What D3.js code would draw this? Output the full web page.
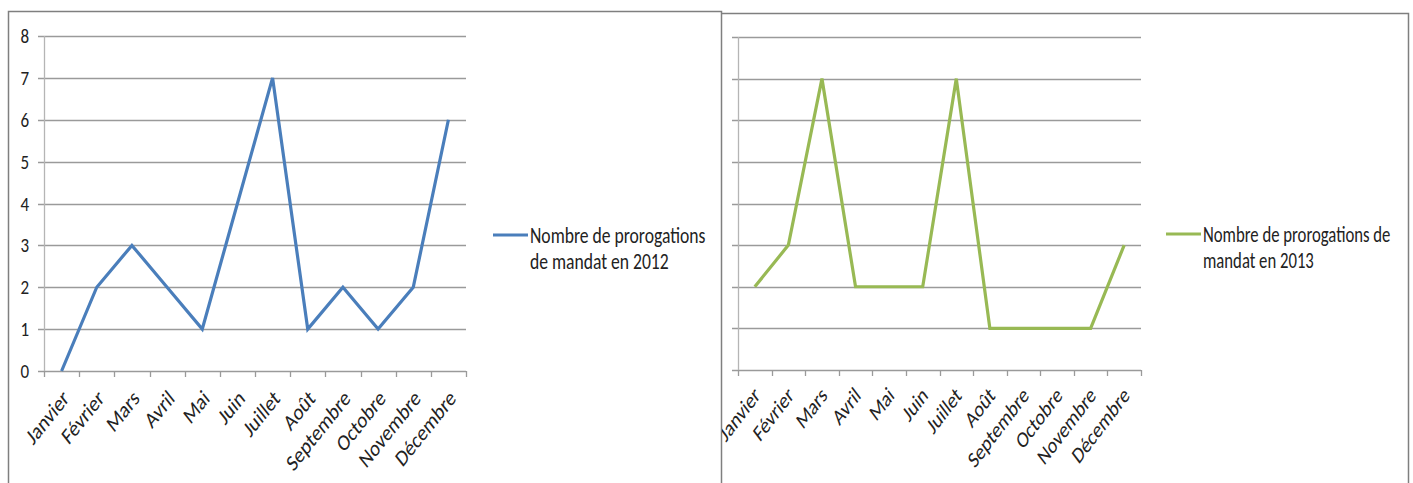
<!DOCTYPE html>
<html>
<head>
<meta charset="utf-8">
<script src="https://cdn.jsdelivr.net/npm/d3@7"></script>
<style>
  body { margin: 0; background: #fff; }
  svg { display: block; font-family: Carlito, "Liberation Sans Narrow", "DejaVu Sans Condensed", sans-serif; }
</style>
</head>
<body>
<svg id="chart" width="1413" height="483"></svg>
<script>
const months = ['Janvier','Février','Mars','Avril','Mai','Juin','Juillet','Août','Septembre','Octobre','Novembre','Décembre']
const values2012 = [0, 2, 3, 2, 1, 4, 7, 1, 2, 1, 2, 6]
const values2013 = [2, 3, 7, 2, 2, 2, 7, 1, 1, 1, 1, 3]
const yTicks = [0, 1, 2, 3, 4, 5, 6, 7, 8]
const legend2012 = ['Nombre de prorogations', 'de mandat en 2012']
const legend2013 = ['Nombre de prorogations de', 'mandat en 2013']

const svg = d3.select('#chart')

// clip for the right chart (its first label runs under the frame)
svg.append('clipPath').attr('id', 'clipRight')
    .append('rect').attr('x', 722).attr('y', 0).attr('width', 700).attr('height', 483)

// frames
svg.append('path')
    .attr('d', 'M8.5,483 V11.5 H721.5 V483 M721.5,13.5 H1408.5 V483')
    .attr('fill', 'none')
    .attr('stroke', '#7f7f7f')
    .attr('stroke-width', 1.5)

function drawChart(opts) {
    const x = d3.scaleBand().domain(months).range([opts.x0, opts.x1])
    const y = d3.scaleLinear().domain([0, 8]).range([opts.y0, opts.y1])
    const g = svg.append('g')
    if (opts.clip) g.attr('clip-path', `url(#${opts.clip})`)

    // gridlines
    g.append('g')
        .selectAll('line')
        .data(yTicks)
        .join('line')
        .attr('x1', opts.x0 - 6)
        .attr('x2', opts.x1)
        .attr('y1', d => Math.round(y(d)) + 0.5)
        .attr('y2', d => Math.round(y(d)) + 0.5)
        .attr('stroke', '#9a9a9a')
        .attr('stroke-width', 1.3)

    // y axis line
    g.append('line')
        .attr('x1', opts.x0 + 0.5).attr('x2', opts.x0 + 0.5)
        .attr('y1', y(8)).attr('y2', y(0))
        .attr('stroke', '#b5b5b5')
        .attr('stroke-width', 1.3)

    // x ticks
    const edges = months.map(m => x(m)).concat([opts.x1])
    g.append('g')
        .selectAll('line')
        .data(edges)
        .join('line')
        .attr('x1', d => Math.round(d) + 0.5)
        .attr('x2', d => Math.round(d) + 0.5)
        .attr('y1', y(0))
        .attr('y2', y(0) + 6)
        .attr('stroke', '#9a9a9a')
        .attr('stroke-width', 1.3)

    if (opts.yLabels) {
        g.append('g')
            .selectAll('text')
            .data(yTicks)
            .join('text')
            .attr('transform', d => `translate(${opts.x0 - 15},${y(d)}) scale(0.85,1)`)
            .attr('dy', '0.35em')
            .attr('text-anchor', 'end')
            .attr('font-size', 20)
            .attr('fill', '#222')
            .text(d => d)
    }

    // x labels (picture is squeezed sideways, so the text is too)
    g.append('g')
        .selectAll('text')
        .data(months)
        .join('text')
        .attr('transform', d => `translate(${x(d) + x.bandwidth() / 2 + opts.labelDx},${y(0) + opts.labelDy}) scale(${opts.squeeze},1) rotate(-45)`)
        .attr('text-anchor', 'end')
        .attr('dy', '0.35em')
        .attr('font-size', 23)
        .attr('fill', '#222')
        .text(d => d)

    // series line
    const line = d3.line()
        .x((d, i) => x(months[i]) + x.bandwidth() / 2)
        .y(d => y(d))
    g.append('path')
        .datum(opts.values)
        .attr('d', line)
        .attr('fill', 'none')
        .attr('stroke', opts.color)
        .attr('stroke-width', 3.2)
        .attr('stroke-linejoin', 'miter')

    // legend
    const lg = svg.append('g').attr('transform', `translate(${opts.legendX},${opts.legendY})`)
    lg.append('line')
        .attr('x1', 0).attr('x2', 35)
        .attr('y1', 0).attr('y2', 0)
        .attr('stroke', opts.color)
        .attr('stroke-width', 3.2)
    lg.append('text')
        .attr('transform', `translate(37,8) scale(${opts.squeeze},1)`)
        .attr('font-size', 22)
        .attr('fill', '#222')
        .selectAll('tspan')
        .data(opts.legend)
        .join('tspan')
        .attr('x', 0)
        .attr('dy', (d, i) => i === 0 ? 0 : 26)
        .text(d => d)
}

drawChart({ x0: 44, x1: 466, y0: 371, y1: 36, values: values2012, color: '#4a7ebb', yLabels: true, squeeze: 0.8,
    labelDx: 4, labelDy: 23, legend: legend2012, legendX: 493, legendY: 235 })
drawChart({ x0: 738, x1: 1141, y0: 370, y1: 37, values: values2013, color: '#98b954', yLabels: false, squeeze: 0.76,
    labelDx: 2, labelDy: 21, legend: legend2013, legendX: 1166, legendY: 234, clip: 'clipRight' })
</script>
</body>
</html>
